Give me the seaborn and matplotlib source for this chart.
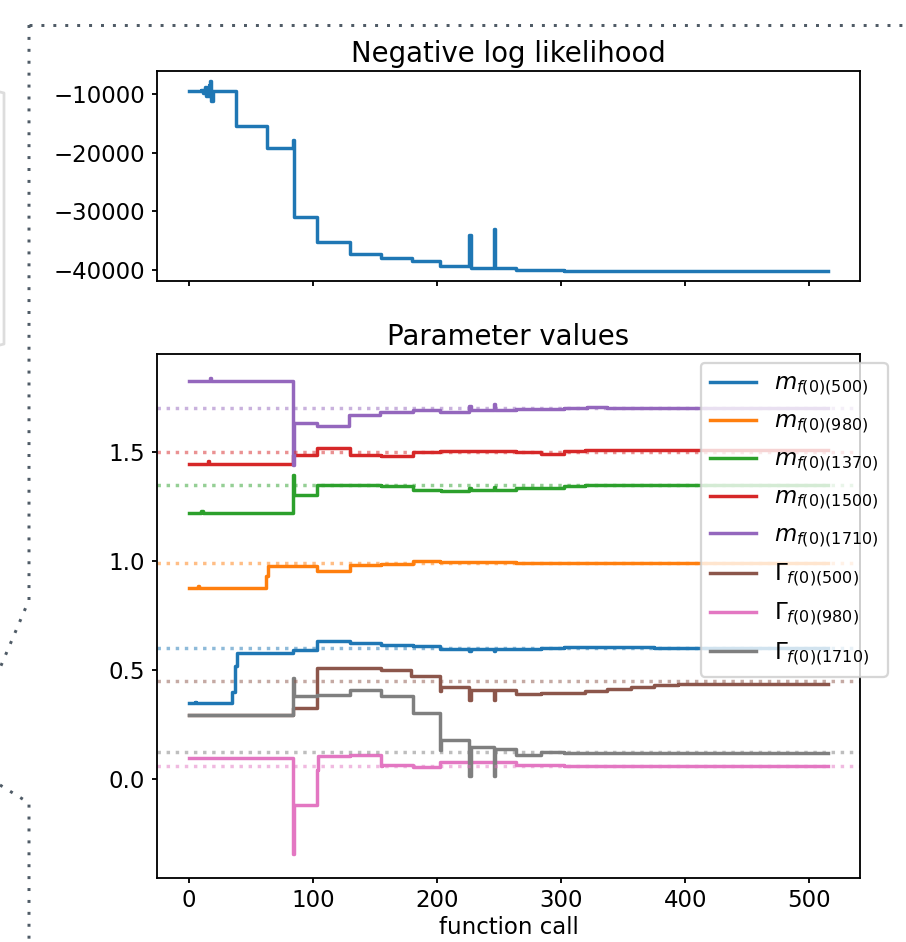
import numpy as np
import pandas as pd
import matplotlib
matplotlib.use("Agg")
import matplotlib.pyplot as plt
from matplotlib.lines import Line2D
import seaborn as sns

nll_call = [0, 10, 11, 13, 14, 16, 17, 18, 19, 38, 63, 84, 85, 103, 130, 155, 180,
            202, 226, 227, 246, 247, 264, 302, 407, 515]
nll_value = [-9550, -9300, -9900, -8800, -10300, -8400, -7700, -11200, -9550, -15500,
             -19250, -17800, -31000, -35240, -37330, -37900, -38470, -39320, -34100,
             -39600, -33080, -39650, -39970, -40200, -40250, -40250]

# parameter traces (change points)
m500_call = [0, 5, 6, 35, 37, 39, 84, 103, 130, 155, 181, 202, 226, 227, 246, 247, 284, 302, 375, 515]
m500_value = [0.348, 0.356, 0.348, 0.40, 0.52, 0.581, 0.594, 0.636, 0.624, 0.617, 0.612, 0.597,
              0.590, 0.597, 0.590, 0.597, 0.600, 0.606, 0.600, 0.600]

m980_call = [0, 7, 8, 62, 64, 103, 130, 155, 181, 202, 264, 515]
m980_value = [0.878, 0.886, 0.878, 0.93, 0.977, 0.956, 0.982, 0.988, 1.001, 0.995, 0.992, 0.992]

m1370_call = [0, 10, 11, 84, 85, 103, 155, 181, 203, 226, 227, 246, 247, 264, 302, 319, 515]
m1370_value = [1.218, 1.228, 1.218, 1.393, 1.301, 1.347, 1.342, 1.327, 1.321, 1.335, 1.327,
               1.338, 1.327, 1.335, 1.342, 1.350, 1.350]

m1500_call = [0, 15, 16, 84, 103, 130, 155, 181, 202, 264, 284, 302, 319, 515]
m1500_value = [1.446, 1.456, 1.446, 1.487, 1.519, 1.484, 1.481, 1.499, 1.504, 1.498, 1.490,
               1.503, 1.507, 1.507]

m1710_call = [0, 17, 18, 84, 85, 103, 129, 154, 181, 202, 226, 227, 246, 247, 264, 302, 321, 337, 515]
m1710_value = [1.825, 1.838, 1.825, 1.438, 1.633, 1.618, 1.667, 1.682, 1.689, 1.680, 1.710,
               1.689, 1.717, 1.689, 1.696, 1.700, 1.703, 1.699, 1.699]

g500_call = [0, 84, 103, 155, 179, 202, 203, 226, 227, 246, 247, 264, 284, 319, 337, 356, 375, 394, 515]
g500_value = [0.297, 0.327, 0.510, 0.499, 0.475, 0.403, 0.423, 0.365, 0.411, 0.363, 0.409,
              0.393, 0.397, 0.406, 0.414, 0.423, 0.434, 0.438, 0.438]

g980_call = [0, 84, 85, 103, 104, 130, 155, 156, 181, 202, 264, 302, 515]
g980_value = [0.099, -0.342, -0.119, 0.045, 0.106, 0.113, 0.060, 0.065, 0.056, 0.079, 0.068,
              0.061, 0.061]

g1710_call = [0, 84, 85, 103, 130, 155, 181, 202, 203, 226, 227, 246, 247, 264, 284, 302, 319, 515]
g1710_value = [0.297, 0.464, 0.380, 0.388, 0.408, 0.380, 0.305, 0.137, 0.183, 0.018, 0.149,
               0.014, 0.140, 0.110, 0.125, 0.119, 0.122, 0.122]

param_labels = [r'$m_{f(0)(500)}$', r'$m_{f(0)(980)}$', r'$m_{f(0)(1370)}$',
                r'$m_{f(0)(1500)}$', r'$m_{f(0)(1710)}$', r'$\Gamma_{f(0)(500)}$',
                r'$\Gamma_{f(0)(980)}$', r'$\Gamma_{f(0)(1710)}$']
true_values = [0.60, 0.99, 1.35, 1.50, 1.70, 0.45, 0.06, 0.125]

param_calls = [m500_call, m980_call, m1370_call, m1500_call, m1710_call,
               g500_call, g980_call, g1710_call]
param_values = [m500_value, m980_value, m1370_value, m1500_value, m1710_value,
                g500_value, g980_value, g1710_value]

nll_df = pd.DataFrame({'call': nll_call, 'value': nll_value})
param_df = pd.concat([
    pd.DataFrame({'call': c, 'value': v, 'param': lab})
    for c, v, lab in zip(param_calls, param_values, param_labels)
], ignore_index=True)

colors = sns.color_palette('tab10', 8)

plt.rcParams['xtick.major.size'] = 2.3
plt.rcParams['ytick.major.size'] = 2.3
plt.rcParams['xtick.major.pad'] = 2.3
plt.rcParams['ytick.major.pad'] = 2.8

fig, (ax1, ax2) = plt.subplots(2, 1, sharex=True, figsize=(906 / 165, 942 / 165), dpi=165,
                               gridspec_kw={'height_ratios': [210, 524]})
fig.subplots_adjust(left=0.1733, right=0.949, top=0.9246, bottom=0.0679, hspace=0.199)

sns.lineplot(data=nll_df, x='call', y='value', ax=ax1, color=colors[0],
             drawstyle='steps-post', estimator=None, linewidth=1.5)
ax1.set_title('Negative log likelihood', pad=4)
ax1.set_xlabel('')
ax1.set_ylabel('')

sns.lineplot(data=param_df, x='call', y='value', hue='param', hue_order=param_labels,
             palette=colors, ax=ax2, drawstyle='steps-post', estimator=None, linewidth=1.5)
for val, c in zip(true_values, colors):
    ax2.axhline(val, color=c, linestyle=':', alpha=0.5, linewidth=1.5)
ax2.set_title('Parameter values', pad=4)
ax2.set_xlabel('function call', labelpad=2)
ax2.set_ylabel('')
ax2.set_yticks([0.0, 0.5, 1.0, 1.5])
ax2.legend(loc='upper right', bbox_to_anchor=(1.056, 1.005), title=None)

# notebook screenshot frame (dotted guide lines)
def px(x, y):
    return x / 906, 1 - y / 942

frame_style = dict(color='#4f5b66', linestyle=(0, (1, 3)), linewidth=1.3,
                   transform=fig.transFigure)
for pts in [[(29, 25), (906, 25)],
            [(29, 25), (29, 600), (0, 668)],
            [(0, 785), (29, 803), (29, 942)]]:
    xs, ys = zip(*[px(*p) for p in pts])
    fig.add_artist(Line2D(xs, ys, **frame_style))
xs, ys = zip(*[px(*p) for p in [(0, 92), (4, 93), (4, 344), (0, 345)]])
fig.add_artist(Line2D(xs, ys, color='#dddddd', linewidth=1.2, transform=fig.transFigure))

fig.savefig('out.png', dpi=165)
